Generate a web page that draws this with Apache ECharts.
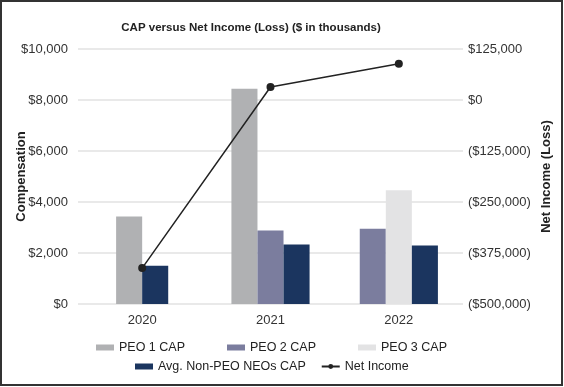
<!DOCTYPE html>
<html>
<head>
<meta charset="utf-8">
<script src="https://cdn.jsdelivr.net/npm/echarts@6/dist/echarts.min.js"></script>
<style>html,body{margin:0;padding:0;background:#fff;}#c{width:564px;height:387px;}</style>
</head>
<body>
<div id="c"></div>
<script>
const categories = ['2020', '2021', '2022'];
const peo1Cap = [3430, 8440, null];
const peo2Cap = [null, 2880, 2950];
const peo3Cap = [null, null, 4460];
const avgNonPeoCap = [1500, 2330, 2290];
const netIncome = [-412000, 32000, 89000];
const leftTicks = [0, 10000, 2000];
const rightTicks = [-500000, 125000, 125000];

const barSeriesDefs = [
  { name: 'PEO 1 CAP', values: peo1Cap, color: '#b0b1b3' },
  { name: 'PEO 2 CAP', values: peo2Cap, color: '#7b7d9e' },
  { name: 'PEO 3 CAP', values: peo3Cap, color: '#e3e3e4' },
  { name: 'Avg. Non-PEO NEOs CAP', values: avgNonPeoCap, color: '#1b355f' }
];
const FONT = '"Liberation Sans", Arial, Helvetica, sans-serif';
const BAR_RATIO = 0.203;

function makeRender(si) {
  return function (params, api) {
    const cat = api.value(0);
    const val = api.value(1);
    const present = [];
    barSeriesDefs.forEach((d, i) => { if (d.values[cat] != null) present.push(i); });
    const k = present.indexOf(si);
    const n = present.length;
    const band = api.size([1, 0])[0];
    const w = band * BAR_RATIO;
    const base = api.coord([cat, 0]);
    const top = api.coord([cat, val]);
    const x0 = base[0] - n * w / 2 + k * w;
    return {
      type: 'rect',
      shape: { x: x0, y: top[1], width: w, height: base[1] - top[1] },
      style: { fill: barSeriesDefs[si].color }
    };
  };
}

function money(v) {
  const s = '$' + Math.abs(v).toLocaleString('en-US');
  return v < 0 ? '(' + s + ')' : s;
}

const series = barSeriesDefs.map((d, si) => ({
  type: 'custom',
  name: d.name,
  xAxisIndex: 0,
  yAxisIndex: 0,
  itemStyle: { color: d.color },
  renderItem: makeRender(si),
  encode: { x: 0, y: 1 },
  data: d.values.map((v, i) => v == null ? null : [i, v]).filter(x => x)
}));
series.push({
  type: 'line',
  name: 'Net Income',
  yAxisIndex: 1,
  data: netIncome,
  symbol: 'circle',
  symbolSize: 8,
  itemStyle: { color: '#222' },
  lineStyle: { color: '#222', width: 1.5 },
  z: 5
});

const chart = echarts.init(document.getElementById('c'), null, { renderer: 'canvas' });
chart.setOption({
  animation: false,
  textStyle: { fontFamily: FONT },
  title: {
    text: 'CAP versus Net Income (Loss) ($ in thousands)',
    left: 246, top: 17, textAlign: 'center',
    textStyle: { fontSize: 11.5, fontWeight: 'bold', color: '#222', fontFamily: FONT }
  },
  graphic: [{
    type: 'rect', silent: true, z: 100,
    shape: { x: 1, y: 1, width: 561, height: 384 },
    style: { fill: 'none', stroke: '#333', lineWidth: 2 }
  }],
  legend: [{
    data: barSeriesDefs.slice(0, 3).map(d => ({ name: d.name, icon: 'rect' })),
    left: 96, top: 341, padding: 0,
    itemWidth: 18, itemHeight: 6, itemGap: 42,
    textStyle: { fontSize: 12.5, color: '#222', fontFamily: FONT }
  }, {
    data: [{ name: 'Avg. Non-PEO NEOs CAP', icon: 'rect' }, { name: 'Net Income' }],
    left: 135, top: 360, padding: 0,
    itemWidth: 18, itemHeight: 6, itemGap: 15,
    textStyle: { fontSize: 12.5, color: '#222', fontFamily: FONT }
  }],
  grid: { left: 78, right: 101, top: 49, bottom: 83, containLabel: false, outerBoundsMode: 'none' },
  xAxis: {
    type: 'category',
    data: categories,
    axisLine: { show: false },
    axisTick: { show: false },
    axisLabel: { color: '#333', fontSize: 13, margin: 10, fontFamily: FONT }
  },
  yAxis: [{
    type: 'value',
    min: leftTicks[0], max: leftTicks[1], interval: leftTicks[2],
    name: 'Compensation', nameLocation: 'middle', nameGap: 50, nameMoveOverlap: false,
    nameTextStyle: { fontWeight: 'bold', fontSize: 13, color: '#222', fontFamily: FONT },
    axisLabel: { color: '#333', fontSize: 13, margin: 10, formatter: money, fontFamily: FONT },
    splitLine: { lineStyle: { color: '#e2e2e2', width: 1.5 } },
    axisLine: { show: false }, axisTick: { show: false }
  }, {
    type: 'value',
    min: rightTicks[0], max: rightTicks[1], interval: rightTicks[2],
    name: 'Net Income (Loss)', nameLocation: 'middle', nameGap: 77, nameMoveOverlap: false,
    nameTextStyle: { fontWeight: 'bold', fontSize: 13, color: '#222', fontFamily: FONT },
    axisLabel: { color: '#333', fontSize: 13, margin: 5, formatter: money, fontFamily: FONT },
    splitLine: { show: false },
    axisLine: { show: false }, axisTick: { show: false }
  }],
  series: series
});
</script>
</body>
</html>
